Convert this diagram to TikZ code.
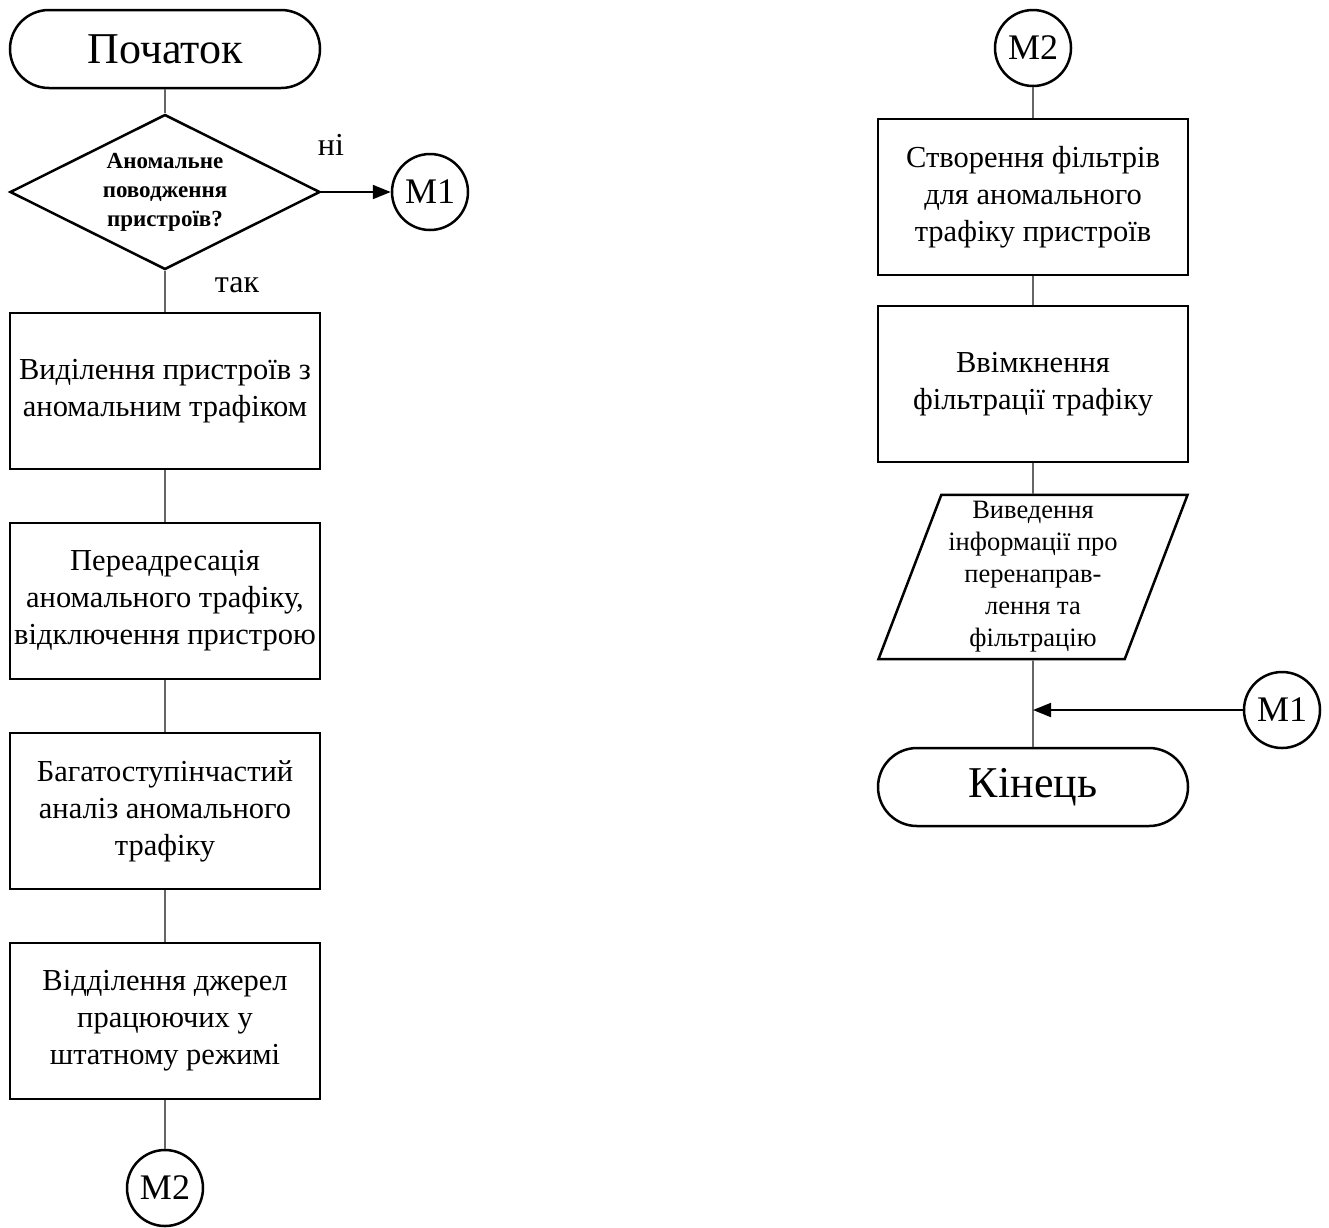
\documentclass[tikz,border=0pt]{standalone}
\usepackage{fontspec}
\setmainfont{Liberation Serif}
\usepackage{tikz}
\usetikzlibrary{shapes.geometric, arrows.meta}
\tikzset{
  startstop/.style={draw, line width=2.5pt, rounded corners=39pt, minimum width=310pt,
    minimum height=78pt, inner sep=0pt, font=\fontsize{44}{50}\selectfont},
  procbox/.style={draw, line width=2.5pt, minimum width=310pt, minimum height=156pt,
    align=center, inner sep=0pt, font=\fontsize{30.5}{37}\selectfont},
  decide/.style={draw, diamond, aspect=2, line width=2.5pt, minimum width=310pt,
    minimum height=155pt, inner sep=0pt, text width=136pt, align=center,
    font=\bfseries\fontsize{23}{29}\selectfont},
  iobox/.style={draw, trapezium, trapezium left angle=69, trapezium right angle=111,
    line width=2.5pt, minimum width=310pt, minimum height=157pt, inner sep=0pt,
    align=center, font=\fontsize{26.5}{32}\selectfont},
  connector/.style={draw, circle, line width=2.5pt, minimum size=76pt, inner sep=0pt,
    font=\fontsize{36}{40}\selectfont},
  link/.style={draw=black!60, line width=1.6pt},
  arrowlink/.style={line width=2pt, -{Triangle[length=18pt,width=14pt]}},
  answer/.style={font=\fontsize{32}{34}\selectfont}
}
\begin{document}
\begin{tikzpicture}[x=1pt, y=-1pt]
  \useasboundingbox (0,0) rectangle (1329,1227);

  % left column
  \node[startstop] (start) at (165,49) {Початок};
  \node[decide] (dec) at (165,192) {Аномальне\\ поводження\\ пристроїв?};
  \node[connector] (M1a) at (430,192) {M1};
  \node[answer] (no) at (331,145) {ні};
  \node[answer] (yes) at (237,285) {так};

  \node[procbox] (sel) at (165,391) {Виділення пристроїв з\\ аномальним трафіком};
  \node[procbox] (redir) at (165,601) {Переадресація\\ аномального трафіку,\\ відключення пристрою};
  \node[procbox] (anal) at (165,811) {Багатоступінчастий\\ аналіз аномального\\ трафіку};
  \node[procbox] (sep) at (165,1021) {Відділення джерел\\ працюючих у\\ штатному режимі};
  \node[connector] (M2a) at (165,1188) {M2};

  \draw[link] (start) -- (dec);
  \draw[arrowlink] (dec.east) -- (M1a);
  \draw[link] (dec) -- (sel);
  \draw[link] (sel) -- (redir);
  \draw[link] (redir) -- (anal);
  \draw[link] (anal) -- (sep);
  \draw[link] (sep) -- (M2a);

  % right column
  \node[connector] (M2b) at (1033,48) {M2};
  \node[procbox] (filt) at (1033,197) {Створення фільтрів\\ для аномального\\ трафіку пристроїв};
  \node[procbox] (enab) at (1033,384) {Ввімкнення\\ фільтрації трафіку};
  \node[iobox] (out) at (1033,577) {Виведення\\ інформації про\\ перенаправ-\\ лення та\\ фільтрацію};
  \node[startstop] (stop) at (1033,787) {Кінець};
  \node[connector] (M1b) at (1282,710) {M1};
  \coordinate (join) at (1033,710);

  \draw[link] (M2b) -- (filt);
  \draw[link] (filt) -- (enab);
  \draw[link] (enab) -- (out);
  \draw[link] (out) -- (stop);
  \draw[arrowlink] (M1b) -- (join);
\end{tikzpicture}
\end{document}
